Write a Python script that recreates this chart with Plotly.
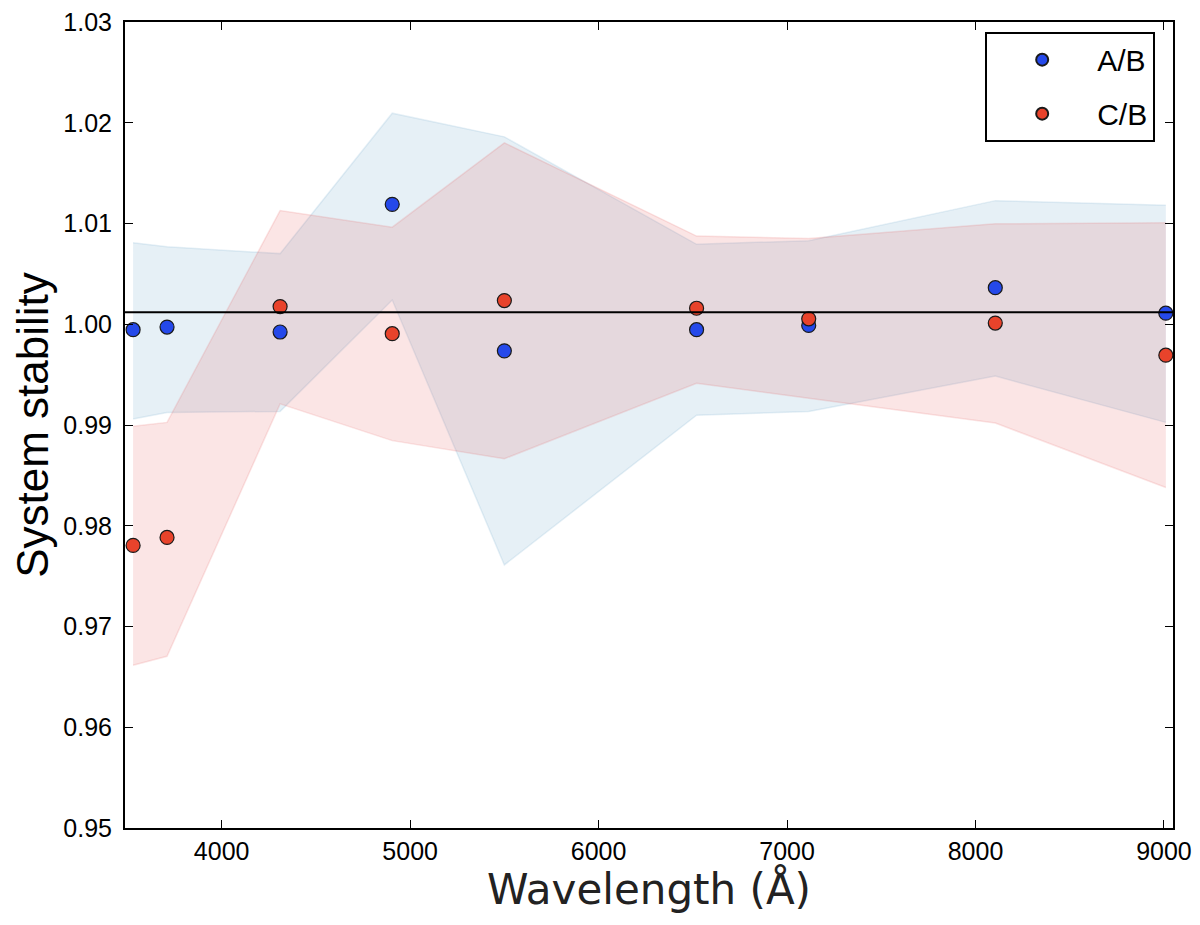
import plotly.graph_objects as go

# wavelengths of the filter bands (Angstrom)
wavelength = [3530, 3710, 4310, 4905, 5500, 6520, 7115, 8105, 9010]

# A/B ratio and its envelope
ab_ratio = [0.99946, 0.99972, 0.99923, 1.01190, 0.99736, 0.99946, 0.99988, 1.00363, 1.00110]
ab_upper = [1.00810, 1.00770, 1.00701, 1.02095, 1.01860, 1.00793, 1.00830, 1.01227, 1.01180]
ab_lower = [0.99059, 0.99125, 0.99135, 1.00240, 0.97611, 0.99098, 0.99135, 0.99486, 0.99026]

# C/B ratio and its envelope
cb_ratio = [0.97805, 0.97884, 1.00175, 0.99906, 1.00235, 1.00159, 1.00054, 1.00012, 0.99693]
cb_upper = [0.98987, 0.99026, 1.01128, 1.00964, 1.01801, 1.00875, 1.00850, 1.00997, 1.01007]
cb_lower = [0.96616, 0.96704, 0.99210, 0.98845, 0.98665, 0.99414, 0.99266, 0.99020, 0.98379]

ref_level = 1.0012

x_ticks = [4000, 5000, 6000, 7000, 8000, 9000]
y_ticks = [0.95, 0.96, 0.97, 0.98, 0.99, 1.00, 1.01, 1.02, 1.03]

series = [
    ('A/B', ab_ratio, ab_lower, ab_upper, '#2549ea', 'rgba(100,160,200,0.16)'),
    ('C/B', cb_ratio, cb_lower, cb_upper, '#e8432b', 'rgba(230,80,80,0.15)'),
]

fig = go.Figure()

# shaded envelopes first
for name, ratio, lower, upper, color, fill in series:
    fig.add_trace(go.Scatter(
        x=wavelength, y=lower, mode='lines',
        line=dict(color=fill, width=1.5),
        showlegend=False, hoverinfo='skip'
    ))
    fig.add_trace(go.Scatter(
        x=wavelength, y=upper, mode='lines',
        line=dict(color=fill, width=1.5),
        fill='tonexty', fillcolor=fill,
        showlegend=False, hoverinfo='skip'
    ))

fig.add_hline(y=ref_level, line=dict(color='black', width=2))

# the measured ratios
for name, ratio, lower, upper, color, fill in series:
    fig.add_trace(go.Scatter(
        x=wavelength, y=ratio, mode='markers', name=name,
        legendgroup=name,
        marker=dict(size=14, color=color, line=dict(color='#1a1a1a', width=1.2)),
        cliponaxis=False
    ))

axis_common = dict(
    showline=True, linecolor='black', linewidth=2, mirror='ticks',
    ticks='inside', ticklen=8, tickwidth=1, tickcolor='black',
    showgrid=False, zeroline=False, automargin=False,
    ticklabeloverflow='allow',
    tickfont=dict(family='Liberation Sans', size=25, color='black'),
)

fig.update_xaxes(range=[3487, 9048], tickvals=x_ticks, **axis_common)
fig.update_yaxes(
    range=[0.95, 1.03], tickvals=y_ticks, tickformat='.2f',
    ticklabelstandoff=6,
    title=dict(text='System stability', standoff=14,
               font=dict(family='Liberation Sans', size=44, color='black')),
    **axis_common
)

# x title placed by hand so it sits as close to the tick labels as the original
fig.add_annotation(
    text='Wavelength (Å)', xref='paper', yref='paper', x=0.5, y=0,
    xanchor='center', yanchor='middle', yshift=-61, showarrow=False,
    font=dict(family='DejaVu Sans', size=42, color='#222222')
)

fig.update_layout(
    width=1200, height=925,
    margin=dict(l=117, r=35, t=14, b=105),
    plot_bgcolor='white', paper_bgcolor='white',
    legend=dict(
        x=0.983, y=0.988, xanchor='right', yanchor='top',
        bordercolor='black', borderwidth=2, bgcolor='white',
        font=dict(family='Liberation Sans', size=30, color='black'),
        traceorder='grouped', tracegroupgap=12,
        itemsizing='constant', itemwidth=100
    ),
)

fig.write_html("out.html")
